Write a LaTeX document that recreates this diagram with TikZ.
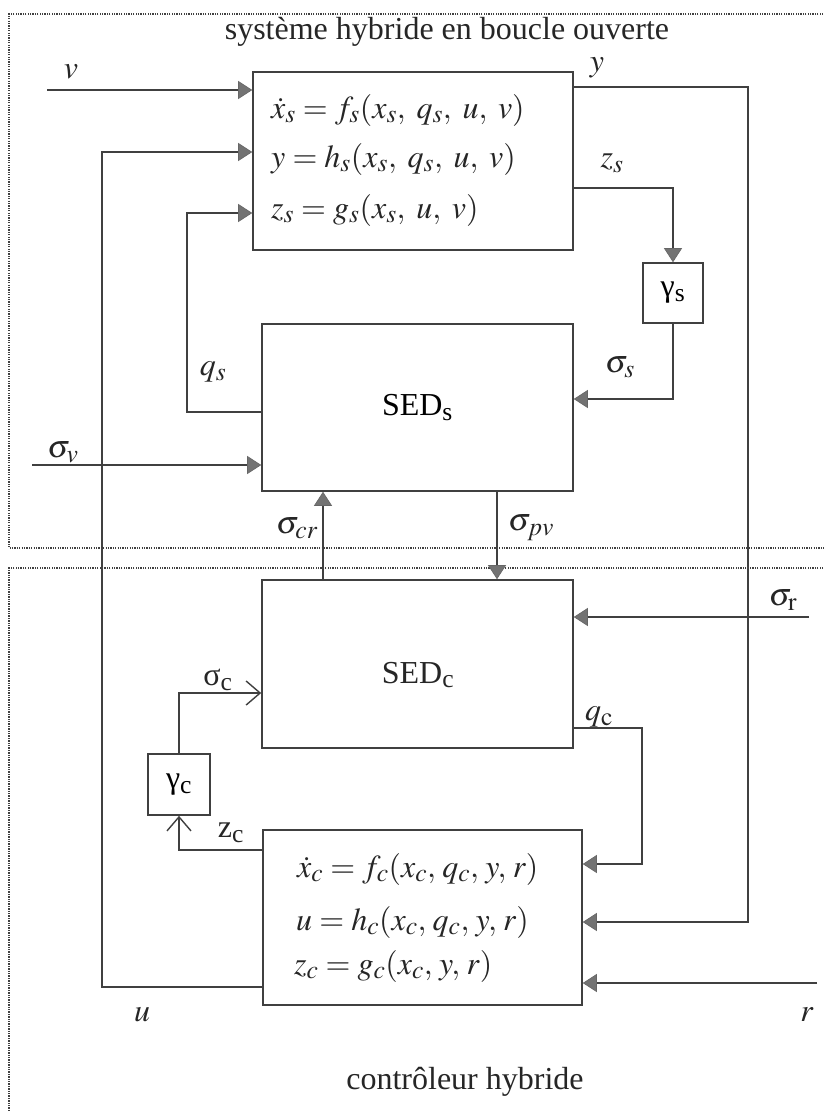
\documentclass[tikz,border=0pt]{standalone}
\usepackage{mathptmx}
\usepackage{fontspec}
\setmainfont{Liberation Serif}
\renewcommand\defaultscriptratio{.8}
\usetikzlibrary{arrows.meta, positioning}

\begin{document}
\begin{tikzpicture}[x=1pt, y=-1pt,
    font=\fontsize{32}{38}\selectfont,
    bloc/.style={rectangle, draw=black!75, line width=1.6pt, inner sep=0pt},
    sig/.style={draw=black!75, line width=1.6pt, -{Triangle[length=14pt, width=18pt, fill=black!55, color=black!60, line width=0.6pt]}},
    sigo/.style={draw=black!75, line width=1.6pt, -{Straight Barb[length=14pt, width=24pt, line width=1.4pt]}},
    cadre/.style={draw=black!75, line width=2.2pt, dash pattern=on 1.3pt off 1.1pt},
    lbl/.style={text=black!85, inner sep=0pt}]

    \useasboundingbox (0,0) rectangle (824,1111);
    \clip (0,0) rectangle (824,1111);

    % Cadres
    \draw[cadre] (840,14) -- (9,14) -- (9,548) -- (840,548);
    \draw[cadre] (840,568) -- (9,568) -- (9,1130);
    \node[lbl] (titre) at (447,32) {système hybride en boucle ouverte};
    \node[lbl] (titrec) at (465,1082) {contrôleur hybride};

    % Blocs
    \node[bloc, minimum width=320pt, minimum height=178pt] (sys) at (413,161) {};
    \node[bloc, minimum width=60pt, minimum height=60pt] (gams) at (673,293) {γ\textsubscript{s}};
    \node[bloc, minimum width=311pt, minimum height=167pt] (seds) at (417.5,407.5) {SED\textsubscript{s}};
    \node[bloc, minimum width=311pt, minimum height=168pt] (sedc) at (417.5,664) {};
    \node[lbl] (sedclbl) at (418,675) {SED\textsubscript{c}};
    \node[bloc, minimum width=62pt, minimum height=61pt] (gamc) at (179,784.5) {γ\textsubscript{c}};
    \node[bloc, minimum width=319pt, minimum height=175pt] (ctrl) at (422.5,917.5) {};

    % Equations
    \node[lbl, anchor=base west] (eqs1) at (271,118) {$\dot{x}_s = f_s(x_s,\; q_s,\; u,\; v)$};
    \node[lbl, anchor=base west] (eqs2) at (271,167) {$y = h_s(x_s,\; q_s,\; u,\; v)$};
    \node[lbl, anchor=base west] (eqs3) at (271,218) {$z_s = g_s(x_s,\; u,\; v)$};
    \node[lbl, anchor=base west] (eqc1) at (297,877) {$\dot{x}_c = f_c(x_c,\mkern1.5mu q_c,\mkern1.5mu y,\mkern1.5mu r)$};
    \node[lbl, anchor=base west] (eqc2) at (296,930) {$u = h_c(x_c,\mkern1.5mu q_c,\mkern1.5mu y,\mkern1.5mu r)$};
    \node[lbl, anchor=base west] (eqc3) at (294,974) {$z_c = g_c(x_c,\mkern1.5mu y,\mkern1.5mu r)$};

    % Points libres
    \coordinate (vin) at (47,90);
    \coordinate (sigvin) at (32,465);
    \coordinate (sigrin) at (809,617);
    \coordinate (rin) at (817,983);
    \coordinate (ubord) at (102,600);
    \coordinate (qsbord) at (187,300);
    \coordinate (ybord) at (748,500);
    \coordinate (qcbord) at (642,800);

    % Liaisons
    \draw[sig] (vin) -- (vin -| sys.west);
    \draw[sig] (sigvin) -- (sigvin -| seds.west);
    \draw[sig] (sigrin) -- (sigrin -| sedc.east);
    \draw[sig] (rin) -- (rin -| ctrl.east);
    \draw[sig] (ctrl.west |- 0,987) -| (ubord) |- (sys.west |- 0,152);
    \draw[sig] (seds.west |- 0,412) -| (qsbord) |- (sys.west |- 0,213);
    \draw[sig] (sys.east |- 0,87) -| (ybord) |- (ctrl.east |- 0,922);
    \draw[sig] (sys.east |- 0,188) -| (gams.north);
    \draw[sig] (gams.south) |- (seds.east |- 0,399);
    \draw[sig] (sedc.north -| 323,0) -- (seds.south -| 323,0);
    \draw[sig] (seds.south -| 497,0) -- (sedc.north -| 497,0);
    \draw[sig] (sedc.east |- 0,728) -| (qcbord) |- (ctrl.east |- 0,864);
    \draw[sigo] (gamc.north) |- (sedc.west |- 0,693);
    \draw[sigo] (ctrl.west |- 0,850) -| (gamc.south);

    % Etiquettes
    \node[lbl] (lv) at (71,72) {$v$};
    \node[lbl] (ly) at (597,68) {$y$};
    \node[lbl] (lzs) at (612,163) {$z_s$};
    \node[lbl] (lqs) at (213,372) {$q_s$};
    \node[lbl] (lsigs) at (620,367) {$\sigma_s$};
    \node[lbl] (lsigv) at (63,452) {$\sigma_v$};
    \node[lbl] (lsigcr) at (297,528) {$\sigma_{cr}$};
    \node[lbl] (lsigpv) at (531,528) {$\sigma_{pv}$};
    \node[lbl] (lsigr) at (783,600) {$\sigma_{\mathrm{r}}$};
    \node[lbl] (lsigc) at (218,680) {σ\textsubscript{c}};
    \node[lbl] (lzc) at (231,833) {z\textsubscript{c}};
    \node[lbl] (lqc) at (599,717) {$q_{\mathrm{c}}$};
    \node[lbl] (lu) at (142,1015) {$u$};
    \node[lbl] (lr) at (807,1015) {$r$};

\end{tikzpicture}
\end{document}
